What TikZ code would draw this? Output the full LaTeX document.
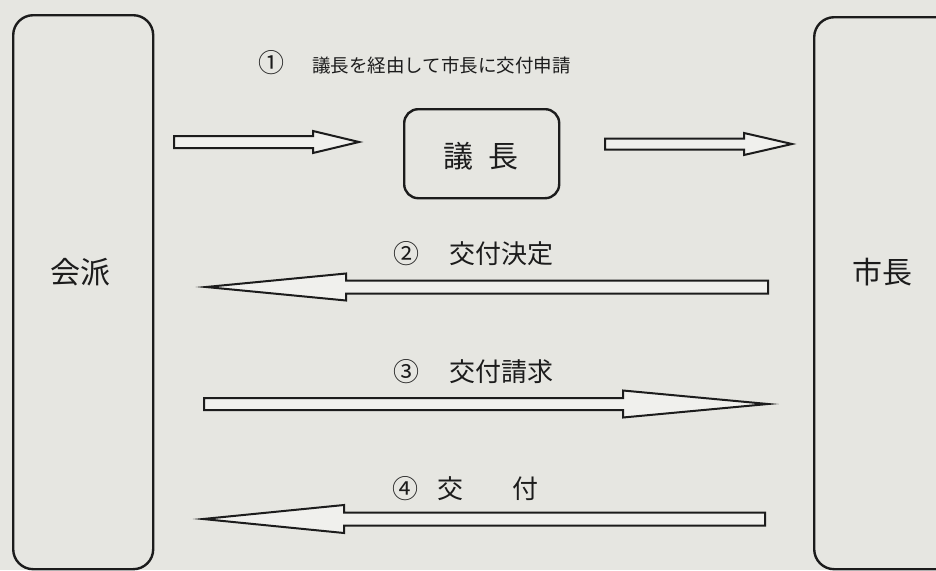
\documentclass[tikz,border=0pt]{standalone}
\usepackage{fontspec}
\newfontfamily\jpfont{Noto Sans CJK JP}
\usetikzlibrary{calc}
\definecolor{paper}{RGB}{230,230,225}
\definecolor{ink}{RGB}{28,28,28}
\tikzset{
  box/.style={draw=ink, line width=2.4pt, rounded corners=20pt, inner sep=0pt},
  lbl/.style={font=\jpfont\fontsize{26}{26}\selectfont, text=ink, inner sep=0pt},
  big/.style={font=\jpfont\fontsize{30}{30}\selectfont, text=ink, inner sep=0pt},
  harrow/.style={draw=ink, line width=2pt, fill=paper!60!white, line join=miter, miter limit=30},
}
\newcommand\hollowarrow[5]{%
  \draw[harrow] ($(#1)+(0,#3)$) -- ($(#2)+({-(#5)},#3)$) -- ($(#2)+({-(#5)},#4)$) -- (#2)
    -- ($(#2)+({-(#5)},{-(#4)})$) -- ($(#2)+({-(#5)},{-(#3)})$) -- ($(#1)+(0,{-(#3)})$) -- cycle;}
\begin{document}
\begin{tikzpicture}[x=1pt,y=-1pt]
\fill[paper] (0,0) rectangle (936,570);
\useasboundingbox (0,0) rectangle (936,570);
\clip (0,0) rectangle (936,570);
% boxes
\node[box, minimum width=140pt, minimum height=554pt, anchor=north west] (kaihabox) at (12,14) {};
\node[box, minimum width=170pt, minimum height=552pt, anchor=north west] (shichobox) at (813,16) {};
\node[box, rounded corners=14pt, minimum width=155pt, minimum height=89pt, anchor=north west] (gichobox) at (403,108) {};
% box texts
\node[big] (kaiha) at (80,272) {会派};
\node[big] (shicho) at (882,272) {市長};
\node[big] (gicho) at (481,156) {議\hspace{15pt}長};
% labels
\node[lbl, anchor=west] (l1) at (258,63) {①\hspace{28pt}{\fontsize{18.5}{18.5}\selectfont 議長を経由して市長に交付申請}};
\node[lbl, anchor=west] (l2) at (393,254) {②\hspace{30pt}交付決定};
\node[lbl, anchor=west] (l3) at (393,372) {③\hspace{30pt}交付請求};
\node[lbl, anchor=west] (l4) at (392,489) {④\hspace{19pt}交\hspace{49pt}付};
% arrows
\coordinate (a1t) at (174,142); \coordinate (a1h) at (359,142);
\coordinate (a2t) at (605,144); \coordinate (a2h) at (792,144);
\coordinate (a3t) at (768,287); \coordinate (a3h) at (206,287);
\coordinate (a4t) at (204,404); \coordinate (a4h) at (768,404);
\coordinate (a5t) at (765,519); \coordinate (a5h) at (203,519);
\hollowarrow{a1t}{a1h}{6}{11}{46}
\hollowarrow{a2t}{a2h}{5.5}{11}{48}
\hollowarrow{a3t}{a3h}{6.5}{13.5}{-140}
\hollowarrow{a4t}{a4h}{6}{13.5}{145}
\hollowarrow{a5t}{a5h}{6.5}{14}{-141}
\end{tikzpicture}
\end{document}
